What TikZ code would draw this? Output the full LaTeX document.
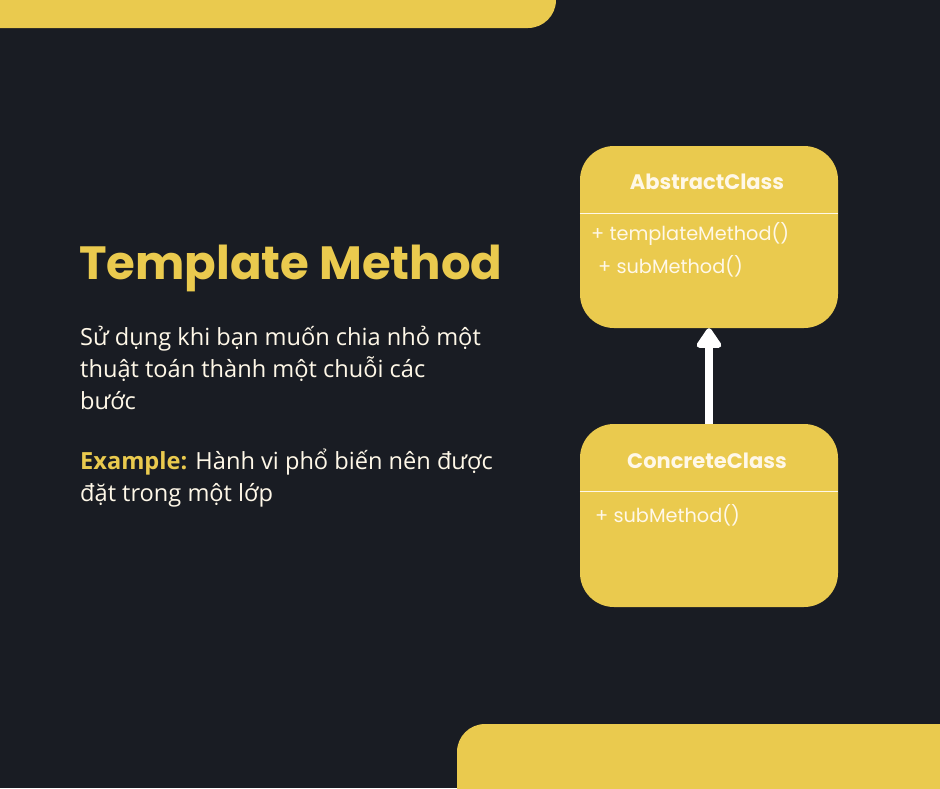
\documentclass[tikz,border=0pt]{standalone}
\usepackage{fontspec}
\setmainfont{Open Sans}
\newfontfamily\popfont{Poppins}
\usetikzlibrary{arrows.meta,positioning}
\definecolor{bgdark}{HTML}{191C23}
\definecolor{gold}{HTML}{EACA4E}
\definecolor{cream}{HTML}{FFF8E8}
\tikzset{
  classbox/.style={fill=gold, draw=none, rounded corners=34pt, minimum width=258pt, inner sep=0pt},
  classname/.style={text=cream, font=\popfont\bfseries\fontsize{21}{24}\selectfont},
  methodtxt/.style={text=cream, anchor=base west, inner sep=0pt, font=\popfont\fontsize{19.3}{22}\selectfont},
  bodytxt/.style={text=cream, anchor=north west, align=left, inner sep=0pt, font=\fontsize{23.6}{32}\selectfont},
}
\begin{document}
\begin{tikzpicture}[x=1pt,y=-1pt]
                \useasboundingbox (0,0) rectangle (940,788);
                \fill[bgdark] (0,0) rectangle (940,788);
                % decorative bars
                \fill[gold, rounded corners=28pt] (-40,-40) rectangle (556,28);
                \fill[gold, rounded corners=28pt] (457,724) rectangle (980,830);
                % title and description
                \node[anchor=base west, text=gold, inner sep=0pt, font=\popfont\bfseries\fontsize{46.6}{52}\selectfont] (title) at (79,279) {Template Method};
                \node[bodytxt] (desc) at (80,326) {Sử dụng khi bạn muốn chia nhỏ một\\thuật toán thành một chuỗi các\\bước};
                \node[bodytxt] (example) at (80,449) {\textcolor{gold}{\bfseries Example:} Hành vi phổ biến nên được\\đặt trong một lớp};
                % class boxes
                \node[classbox, minimum height=182pt] (absBox) at (709,237) {};
                \draw[cream, line width=1pt] (absBox.west |- 0,213) -- (absBox.east |- 0,213);
                \node[classname] (absName) at (707,182) {AbstractClass};
                \node[methodtxt] (absM1) at (591,240) {+ templateMethod()};
                \node[methodtxt] (absM2) at (598,273) {+ subMethod()};
                \node[classbox, minimum height=183pt] (conBox) at (709,515.5) {};
                \draw[cream, line width=1pt] (conBox.west |- 0,491) -- (conBox.east |- 0,491);
                \node[classname] (conName) at (707,461) {ConcreteClass};
                \node[methodtxt] (conM1) at (595,522) {+ subMethod()};
                % inheritance arrow
                \draw[white, line width=8pt, -{Triangle[width=28pt,length=22pt,round]}] (conBox.north) -- (absBox.south);
\end{tikzpicture}
\end{document}
